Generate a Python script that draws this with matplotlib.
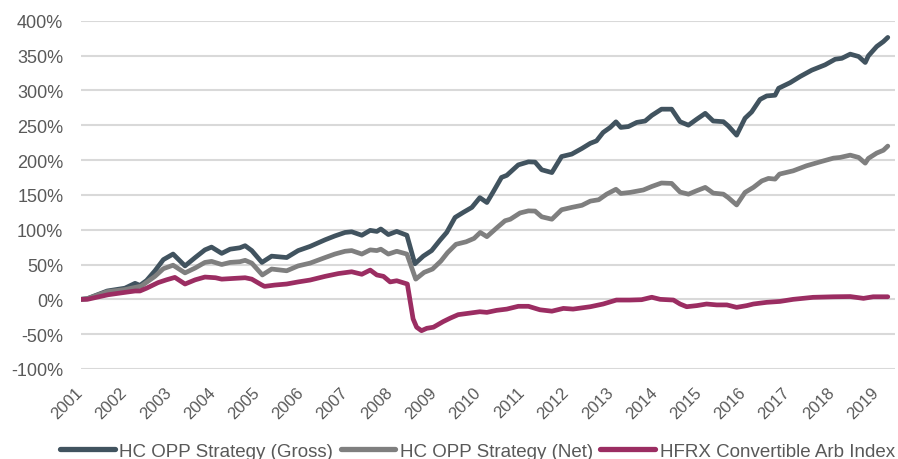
import matplotlib
matplotlib.use("Agg")
import matplotlib.pyplot as plt
from matplotlib.transforms import ScaledTranslation

plt.rcParams['font.family'] = ['Liberation Sans', 'DejaVu Sans']

# ---- data (decimal years, cumulative return in %) ----
gross_t = [2001.0, 2001.15, 2001.6, 2002.0, 2002.23, 2002.34, 2002.49, 2002.68, 2002.87, 2003.09,
           2003.36, 2003.59, 2003.81, 2003.96, 2004.19, 2004.38, 2004.6, 2004.72, 2004.87, 2005.1,
           2005.32, 2005.66, 2005.92, 2006.19, 2006.53, 2006.75, 2006.98, 2007.13, 2007.36, 2007.55,
           2007.70, 2007.79, 2007.96, 2008.15, 2008.38, 2008.56, 2008.75, 2008.94, 2009.13, 2009.28,
           2009.47, 2009.66, 2009.85, 2010.03, 2010.19, 2010.33, 2010.52, 2010.64, 2010.9, 2011.13,
           2011.28, 2011.43, 2011.66, 2011.88, 2012.11, 2012.34, 2012.53, 2012.67, 2012.82, 2012.98,
           2013.11, 2013.22, 2013.39, 2013.58, 2013.77, 2013.92, 2014.14, 2014.37, 2014.56, 2014.75,
           2014.94, 2015.13, 2015.31, 2015.54, 2015.65, 2015.84, 2016.03, 2016.18, 2016.37, 2016.52,
           2016.71, 2016.79, 2017.05, 2017.28, 2017.54, 2017.84, 2018.07, 2018.22, 2018.41, 2018.6,
           2018.75, 2018.82, 2019.01, 2019.16, 2019.26]
gross_v = [0, 1, 12, 16, 23, 20, 27, 41, 57, 65,
           48, 60, 71, 75, 66, 72, 74, 77, 70, 53,
           62, 60, 70, 76, 85.5, 91, 96, 97, 92, 99,
           97.5, 101, 93, 97.5, 92, 51, 62, 70, 85, 96,
           117.6, 125, 132, 146, 139, 154, 175, 178, 193, 197.4,
           197, 186, 182, 205, 208.5, 216.6, 224, 227.5, 239.6, 246.8,
           254.8, 246.8, 248, 254, 256, 264, 273, 273, 255, 250,
           258.7, 267, 256, 255, 249, 235.7, 260, 269, 287, 292,
           293, 303, 311, 320, 329, 336.6, 344.7, 346, 352, 348.6,
           340, 349.5, 363, 370, 376]

net_t = [2001.0, 2001.15, 2001.6, 2002.0, 2002.37, 2002.68, 2002.87, 2003.09, 2003.36, 2003.59,
         2003.81, 2003.96, 2004.19, 2004.38, 2004.6, 2004.72, 2004.87, 2005.11, 2005.32, 2005.66,
         2005.92, 2006.19, 2006.53, 2006.75, 2006.98, 2007.13, 2007.36, 2007.55, 2007.70, 2007.79,
         2007.96, 2008.15, 2008.38, 2008.58, 2008.77, 2008.96, 2009.15, 2009.3, 2009.49, 2009.72,
         2009.9, 2010.04, 2010.19, 2010.42, 2010.6, 2010.72, 2010.94, 2011.13, 2011.28, 2011.43,
         2011.66, 2011.88, 2012.11, 2012.34, 2012.53, 2012.72, 2012.9, 2013.11, 2013.22, 2013.43,
         2013.73, 2013.92, 2014.14, 2014.37, 2014.56, 2014.75, 2014.94, 2015.13, 2015.31, 2015.54,
         2015.65, 2015.84, 2016.03, 2016.22, 2016.41, 2016.56, 2016.71, 2016.81, 2017.12, 2017.42,
         2017.73, 2018.03, 2018.18, 2018.41, 2018.6, 2018.75, 2018.82, 2019.01, 2019.16, 2019.26]
net_v = [0, 1, 11, 14, 19, 33, 44, 49, 38, 45,
         53, 54.5, 50, 53, 54, 56, 52, 35, 43.5, 41,
         48, 52, 60, 65, 69, 70, 65, 71, 70, 72,
         65, 69, 65, 29, 38.7, 43.5, 55, 67, 79, 82.6,
         87.5, 96, 90, 103, 112.8, 115, 124, 127, 126.7, 118.5,
         115, 128.6, 132, 135, 141, 143, 151, 158, 152, 153.5,
         157, 162, 167, 166.4, 154, 151, 156, 160.7, 152.5, 151,
         146, 135.5, 153.5, 160.7, 170, 173.6, 172.6, 179.8, 184.5, 191.7,
         197.4, 202.7, 203.7, 207, 203.7, 195.5, 202.3, 210, 214, 220]

hfrx_t = [2001.0, 2001.15, 2001.62, 2002.0, 2002.23, 2002.34, 2002.49, 2002.75, 2002.94, 2003.13,
          2003.36, 2003.59, 2003.81, 2004.05, 2004.19, 2004.45, 2004.72, 2004.87, 2005.1, 2005.16,
          2005.39, 2005.66, 2005.92, 2006.19, 2006.53, 2006.83, 2007.13, 2007.36, 2007.55, 2007.70,
          2007.85, 2008.0, 2008.15, 2008.39, 2008.52, 2008.6, 2008.71, 2008.83, 2008.98, 2009.2,
          2009.36, 2009.54, 2009.81, 2010.03, 2010.19, 2010.41, 2010.64, 2010.9, 2011.13, 2011.39,
          2011.66, 2011.92, 2012.14, 2012.53, 2012.82, 2013.12, 2013.42, 2013.69, 2013.92, 2014.11,
          2014.41, 2014.56, 2014.71, 2014.94, 2015.16, 2015.39, 2015.62, 2015.84, 2016.07, 2016.22,
          2016.52, 2016.82, 2017.12, 2017.57, 2018.03, 2018.41, 2018.71, 2018.93, 2019.26]
hfrx_v = [0, 0, 6.6, 10, 12, 12, 16, 24, 28, 31.5,
          22, 28, 32, 31, 29, 30, 31, 29, 20.5, 18.6,
          20.5, 22, 25, 27.7, 33, 37, 39.6, 36, 42, 35,
          33, 25, 26.7, 22, -28, -40, -45, -41.6, -40, -32,
          -27, -22, -19.7, -17.8, -18.7, -15.8, -14, -10, -10, -15,
          -17, -13, -14, -10.6, -6.7, -1, -1, -0.5, 3, 0,
          -1, -6.7, -10.6, -9, -6.7, -8, -8, -11.5, -9, -6.7,
          -4.3, -3, 0, 2.9, 3.7, 4, 1.4, 3.7, 3.7]

series_labels = ['HC OPP Strategy (Gross)', 'HC OPP Strategy (Net)', 'HFRX Convertible Arb Index']
year_ticks = list(range(2001, 2020))
y_ticks = [-100, -50, 0, 50, 100, 150, 200, 250, 300, 350, 400]

colors = ['#41535f', '#7f7f7f', '#9b2d62']

W, H = 898, 460
fig = plt.figure(figsize=(W / 100, H / 100), dpi=100)
ax = fig.add_axes([80.7 / W, 1 - 370 / H, (895 - 80.7) / W, (370 - 21.7) / H])

lw = 3.4
ax.plot(gross_t, gross_v, color=colors[0], lw=lw, label=series_labels[0], solid_joinstyle='round', solid_capstyle='round', zorder=3)
ax.plot(net_t, net_v, color=colors[1], lw=lw, label=series_labels[1], solid_joinstyle='round', solid_capstyle='round', zorder=3)
ax.plot(hfrx_t, hfrx_v, color=colors[2], lw=lw, label=series_labels[2], solid_joinstyle='round', solid_capstyle='round', zorder=3)

ax.set_xlim(2001.0, 2001.0 + (895 - 80.7) / 44.2)
ax.set_ylim(-100, 400)
ax.set_yticks(y_ticks)
ax.set_yticklabels([f'{v}%' for v in y_ticks])
ax.set_xticks(year_ticks)
ax.set_xticklabels([str(y) for y in year_ticks], rotation=45, ha='right', va='top')

ax.grid(axis='y', color='#d9d9d9', lw=1.5, zorder=0)
ax.grid(axis='x', visible=False)
for s in ax.spines.values():
    s.set_visible(False)
ax.tick_params(axis='both', length=0, colors='#595959')
ax.tick_params(axis='y', labelsize=13, pad=12.5)
ax.tick_params(axis='x', labelsize=12, pad=11)
offset = ScaledTranslation(5 / 100, 0, fig.dpi_scale_trans)
for lbl in ax.get_xticklabels():
    lbl.set_transform(lbl.get_transform() + offset)

leg = fig.legend(loc='center', bbox_to_anchor=(477.5 / W, 1 - 452 / H), ncol=3, frameon=False,
                 fontsize=13.5, handlelength=2.9, handletextpad=0.25, columnspacing=0.4,
                 labelcolor='#595959', borderaxespad=0, borderpad=0)
for line in leg.get_lines():
    line.set_linewidth(lw + 0.4)
    line.set_solid_capstyle('round')

fig.savefig('out.png', dpi=100)
